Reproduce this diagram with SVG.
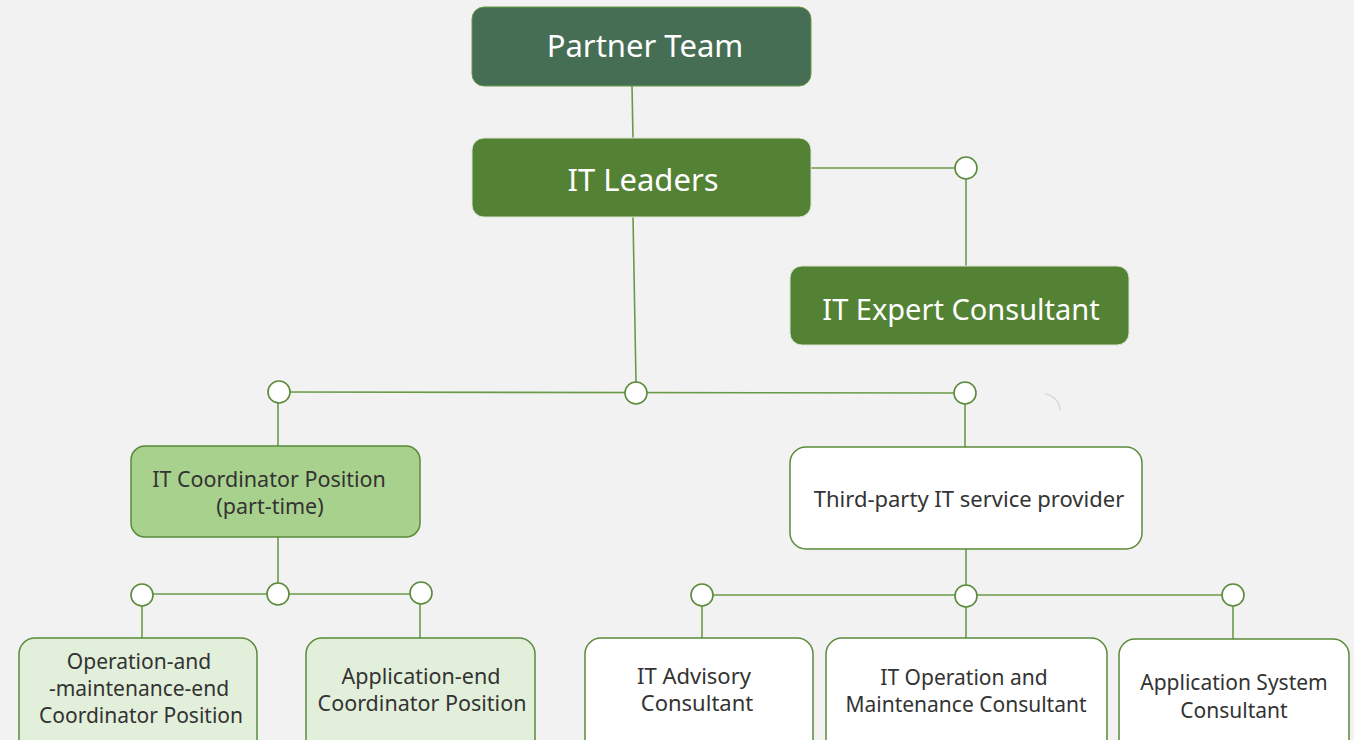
<svg xmlns="http://www.w3.org/2000/svg" width="1354" height="740" viewBox="0 0 1354 740">
<style>
.bg{fill:#f2f2f2}
.line{stroke:#6a9a48;stroke-width:1.6;fill:none}
.dot{fill:#ffffff;stroke:#5a8a3a;stroke-width:1.6}
.dark{fill:#466e54;stroke:#6a9a48;stroke-width:1}
.mid{fill:#548235;stroke:#d9e4d0;stroke-width:1}
.light{fill:#a9d18e;stroke:#5a8a3a;stroke-width:1.5}
.pale{fill:#e2efda;stroke:#5a8a3a;stroke-width:1.5}
.white{fill:#ffffff;stroke:#5a8a3a;stroke-width:1.5}
text{font-family:"Noto Sans","Open Sans","DejaVu Sans",sans-serif;text-anchor:middle}
.tw{fill:#ffffff;font-size:31px}
.tw2{fill:#ffffff;font-size:29px}
.td{fill:#333333;font-size:21.5px}
.tb{fill:#333333;font-size:22px}
.tc{fill:#333333;font-size:21px}
</style>
<rect class="bg" x="0" y="0" width="1354" height="740"/>
<g id="connectors">
<line class="line" x1="632" y1="86" x2="633" y2="138"/>
<line class="line" x1="811" y1="168" x2="955" y2="168"/>
<line class="line" x1="966" y1="179" x2="966" y2="266"/>
<line class="line" x1="633" y1="217" x2="636" y2="382"/>
<line class="line" x1="279" y1="392" x2="965" y2="393"/>
<line class="line" x1="278" y1="403" x2="278" y2="446"/>
<line class="line" x1="278" y1="537" x2="278" y2="584"/>
<line class="line" x1="142" y1="594" x2="421" y2="594"/>
<line class="line" x1="142" y1="606" x2="142" y2="638"/>
<line class="line" x1="420" y1="604" x2="420" y2="638"/>
<line class="line" x1="965" y1="404" x2="965" y2="447"/>
<line class="line" x1="966" y1="549" x2="966" y2="585"/>
<line class="line" x1="702" y1="595" x2="1233" y2="595"/>
<line class="line" x1="702" y1="606" x2="702" y2="638"/>
<line class="line" x1="966" y1="607" x2="966" y2="638"/>
<line class="line" x1="1233" y1="606" x2="1233" y2="639"/>
<circle class="dot" cx="966" cy="168" r="11"/>
<circle class="dot" cx="279" cy="392" r="11"/>
<circle class="dot" cx="636" cy="393" r="11"/>
<circle class="dot" cx="965" cy="393" r="11"/>
<circle class="dot" cx="142" cy="595" r="11"/>
<circle class="dot" cx="278" cy="594" r="11"/>
<circle class="dot" cx="421" cy="593" r="11"/>
<circle class="dot" cx="702" cy="595" r="11"/>
<circle class="dot" cx="966" cy="596" r="11"/>
<circle class="dot" cx="1233" cy="595" r="11"/>
</g>
<path d="M1045,394 A17,17 0 0 1 1060,410" fill="none" stroke="#d8d8d8" stroke-width="1.5"/>
<g id="partner-team">
<rect class="dark" x="472" y="7" width="339" height="79" rx="12"/>
<text class="tw" x="645" y="57">Partner Team</text>
</g>
<g id="it-leaders">
<rect class="mid" x="472" y="138" width="339" height="79" rx="12"/>
<text class="tw" x="643" y="191">IT Leaders</text>
</g>
<g id="it-expert-consultant">
<rect class="mid" x="790" y="266" width="339" height="79" rx="12"/>
<text class="tw2" x="961" y="320">IT Expert Consultant</text>
</g>
<g id="it-coordinator">
<rect class="light" x="131" y="446" width="289" height="91" rx="14"/>
<text class="td"><tspan x="269" y="487">IT Coordinator Position</tspan><tspan x="270" y="514">(part-time)</tspan></text>
</g>
<g id="third-party">
<rect class="white" x="790" y="447" width="352" height="102" rx="16"/>
<text class="tb" x="969" y="507">Third-party IT service provider</text>
</g>
<g id="om-coordinator">
<rect class="pale" x="19" y="638" width="238" height="120" rx="16"/>
<text class="tc"><tspan x="139" y="669">Operation-and</tspan><tspan x="139" y="696">-maintenance-end</tspan><tspan x="141" y="723">Coordinator Position</tspan></text>
</g>
<g id="app-coordinator">
<rect class="pale" x="306" y="638" width="229" height="120" rx="16"/>
<text class="td"><tspan x="421" y="684">Application-end</tspan><tspan x="422" y="711">Coordinator Position</tspan></text>
</g>
<g id="it-advisory">
<rect class="white" x="585" y="638" width="228" height="120" rx="16"/>
<text class="tb"><tspan x="694" y="684">IT  Advisory</tspan><tspan x="697" y="711">Consultant</tspan></text>
</g>
<g id="it-operation">
<rect class="white" x="826" y="638" width="281" height="120" rx="16"/>
<text class="tc"><tspan x="964" y="685">IT Operation and</tspan><tspan x="966" y="712">Maintenance Consultant</tspan></text>
</g>
<g id="app-system">
<rect class="white" x="1119" y="639" width="230" height="120" rx="16"/>
<text class="tc"><tspan x="1234" y="690">Application System</tspan><tspan x="1234" y="718">Consultant</tspan></text>
</g>
</svg>
